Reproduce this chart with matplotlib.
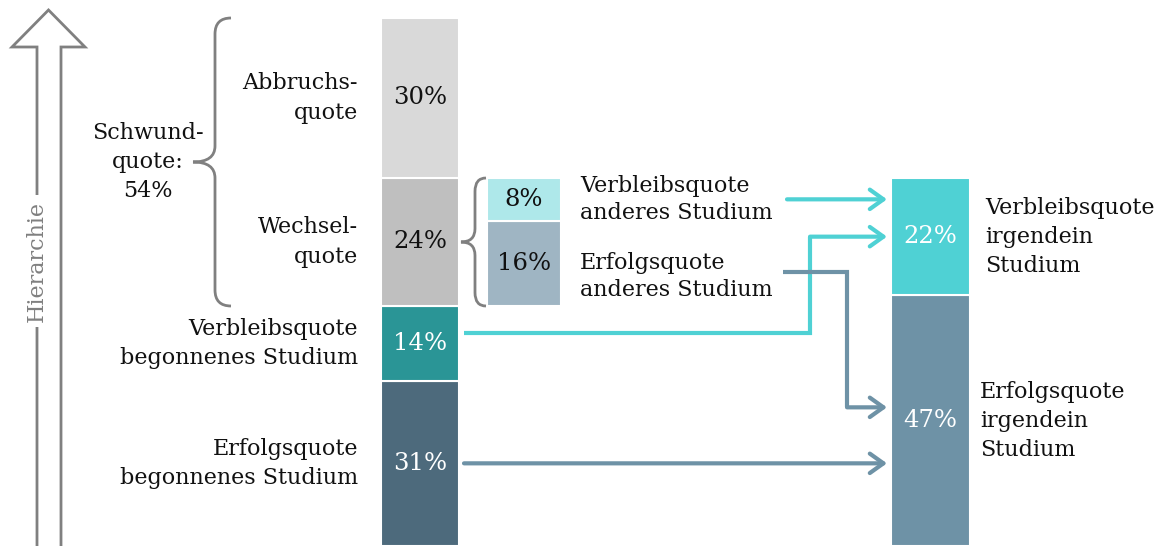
import matplotlib.pyplot as plt
from matplotlib.patches import PathPatch, FancyArrowPatch
from matplotlib.path import Path

plt.rcParams['font.family'] = ['DejaVu Serif']

# values in percent
main_labels = ['Erfolgsquote\nbegonnenes Studium', 'Verbleibsquote\nbegonnenes Studium',
               'Wechsel-\nquote', 'Abbruchs-\nquote']
main_values = [31, 14, 24, 30]
main_colors = ['#4d6a7c', '#2a9596', '#bfbfbf', '#d9d9d9']
main_text = ['white', 'white', '#111111', '#111111']

change_labels = ['Erfolgsquote\nanderes Studium', 'Verbleibsquote\nanderes Studium']
change_values = [16, 8]
change_colors = ['#9fb5c3', '#aee8ea']

total_labels = ['Erfolgsquote\nirgendein\nStudium', 'Verbleibsquote\nirgendein\nStudium']
total_values = [47, 22]
total_colors = ['#6e92a6', '#4fd1d4']

schwund = main_values[2] + main_values[3]

PX = 528 / sum(main_values)       # pixels per percent point
TOP = 546 / PX

fig = plt.figure(figsize=(11.6, 5.46), dpi=100)
ax = fig.add_axes([0, 0, 1, 1])
ax.set_xlim(0, 1160)
ax.set_ylim(0, TOP)
ax.axis('off')

FS = 16
PFS = 17.5
LS = 1.42
GRAY = '#808080'
INK = '#111111'


def stack(x, w, values, colors, base=0):
    bottoms = []
    b = base
    for v, c in zip(values, colors):
        ax.bar(x, v, width=w, bottom=b, color=c, edgecolor='white', linewidth=1.5, align='edge')
        bottoms.append(b)
        b += v
    return bottoms


def brace(xr, xm, xt, y0, y1, r):
    ym = (y0 + y1) / 2
    verts = [(xr, y1), (xm, y1), (xm, y1 - r), (xm, ym + r), (xm, ym), (xt, ym),
             (xm, ym), (xm, ym - r), (xm, y0 + r), (xm, y0), (xr, y0)]
    codes = [Path.MOVETO, Path.CURVE3, Path.CURVE3, Path.LINETO, Path.CURVE3, Path.CURVE3,
             Path.CURVE3, Path.CURVE3, Path.LINETO, Path.CURVE3, Path.CURVE3]
    ax.add_patch(PathPatch(Path(verts, codes), fill=False, edgecolor=GRAY, lw=2))


def arrow(points, color):
    xs = [p[0] for p in points]
    ys = [p[1] for p in points]
    ax.plot(xs[:-1], ys[:-1], color=color, lw=3, solid_capstyle='butt', solid_joinstyle='miter')
    ax.add_patch(FancyArrowPatch(points[-2], points[-1], arrowstyle='->,head_length=7,head_width=5',
                                 color=color, lw=3, shrinkA=0, shrinkB=0, mutation_scale=1.4))


# main bar
mb = stack(381, 78, main_values, main_colors)
for v, b, lab, tc in zip(main_values, mb, main_labels, main_text):
    ax.text(420, b + v / 2, f'{v}%', ha='center', va='center', color=tc, fontsize=PFS)
    ax.text(358, b + v / 2, lab, ha='right', va='center', color=INK, fontsize=FS,
            linespacing=LS)

# change bar (stacked on top of remaining part)
cb_base = main_values[0] + main_values[1]
cb = stack(487, 74, change_values, change_colors, base=cb_base)
for v, b in zip(change_values, cb):
    ax.text(524, b + v / 2, f'{v}%', ha='center', va='center', color=INK, fontsize=PFS)
ax.text(580, cb[1] + change_values[1] / 2, change_labels[1], ha='left', va='center',
        color=INK, fontsize=FS, linespacing=1.3)
ax.text(580, cb[0] + change_values[0] / 2 - 2.4, change_labels[0], ha='left', va='center',
        color=INK, fontsize=FS, linespacing=1.3)

# total bar
tb = stack(891, 79, total_values, total_colors)
for v, b in zip(total_values, tb):
    ax.text(930, b + v / 2, f'{v}%', ha='center', va='center', color='white', fontsize=PFS)
ax.text(985, tb[1] + total_values[1] / 2, total_labels[1], ha='left', va='center',
        color=INK, fontsize=FS, linespacing=LS)
ax.text(980, tb[0] + total_values[0] / 2, total_labels[0], ha='left', va='center',
        color=INK, fontsize=FS, linespacing=LS)

# braces
brace(231, 215, 193, cb_base, sum(main_values), 3)
brace(486, 475, 461, cb_base, cb_base + sum(change_values), 2.5)
ax.text(148, cb_base + sum(main_values[2:]) / 2, f'Schwund-\nquote:\n{schwund}%',
        ha='center', va='center', color=INK, fontsize=FS, linespacing=LS)

# flow arrows
cyan = total_colors[1]
slate = total_colors[0]
y_v8 = cb[1] + change_values[1] / 2
y_t22 = tb[1] + total_values[1] / 2
arrow([(787, y_v8), (887, y_v8)], cyan)
arrow([(464, 40), (810, 40), (810, y_t22), (887, y_t22)], cyan)
arrow([(783, 51.4), (847, 51.4), (847, 26), (887, 26)], slate)
arrow([(464, mb[0] + main_values[0] / 2), (887, mb[0] + main_values[0] / 2)], slate)

# hierarchy arrow
hy = (546 - 47) / PX
tip = (546 - 10) / PX
ax.plot([37, 37, 12, 48.5, 85, 61, 61], [0, hy, hy, tip, hy, hy, 0], color=GRAY, lw=2,
        solid_joinstyle='miter')
ax.text(37, (546 - 261) / PX, 'Hierarchie', rotation=90, ha='center', va='center',
        color=GRAY, fontsize=FS,
        bbox=dict(facecolor='white', edgecolor='none', pad=4))

fig.savefig('out.png', dpi=100)
